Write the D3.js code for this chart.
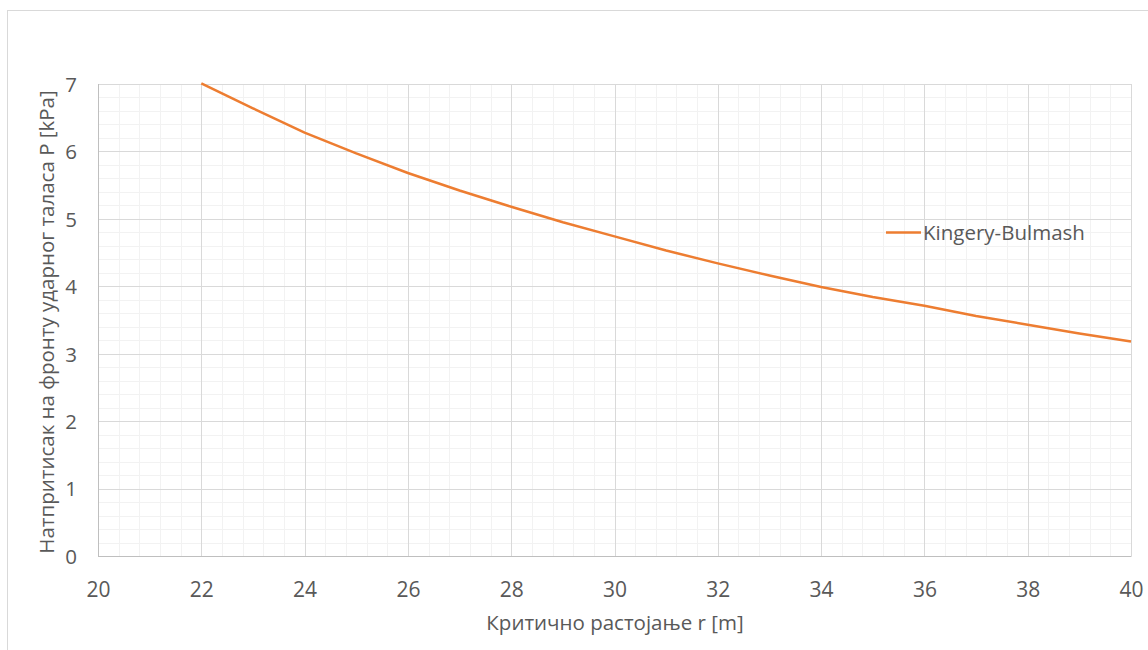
<!DOCTYPE html>
<html>
<head>
<meta charset="utf-8">
<script src="https://cdn.jsdelivr.net/npm/d3@7"></script>
<style>
  html, body { margin: 0; padding: 0; background: #fff; }
  svg { display: block; }
  text { font-family: "Open Sans", "Noto Sans", sans-serif; fill: #595959; }
</style>
</head>
<body>
<svg id="chart" width="1148" height="650"></svg>
<script>
// Critical distance r [m]
const distance = [22, 23, 24, 25, 26, 27, 28, 29, 30, 31, 32, 33, 34, 35, 36, 37, 38, 39, 40];
// Overpressure at the shock front P [kPa], Kingery-Bulmash
const pressure = [7.01, 6.64, 6.28, 5.97, 5.68, 5.42, 5.18, 4.95, 4.74, 4.53, 4.34, 4.16, 3.99, 3.84, 3.71, 3.56, 3.43, 3.30, 3.18];
const xTicks = [20, 22, 24, 26, 28, 30, 32, 34, 36, 38, 40];
const yTicks = [0, 1, 2, 3, 4, 5, 6, 7];
const seriesName = "Kingery-Bulmash";
const xTitle = "Критично растојање  r [m]";
const yTitle = "Натпритисак на фронту ударног таласа P  [kPa]";

const svg = d3.select("#chart");
const plotL = 98, plotR = 1131, plotT = 84, plotB = 556;

const x = d3.scaleLinear().domain([20, 40]).range([plotL, plotR]);
const y = d3.scaleLinear().domain([0, 7]).range([plotB, plotT]);

// chart area frame
svg.append("rect")
  .attr("x", 7.5).attr("y", 10.5)
  .attr("width", 1160).attr("height", 660)
  .attr("fill", "#fff").attr("stroke", "#d9d9d9").attr("stroke-width", 1);

// minor gridlines
const xMinor = d3.range(20, 40.001, 0.4).filter(v => Math.abs(v / 2 - Math.round(v / 2)) > 1e-6);
const yMinor = d3.range(0, 7.001, 0.2).filter(v => Math.abs(v - Math.round(v)) > 1e-6);
const g = svg.append("g");
g.selectAll("line.xm").data(xMinor).join("line")
  .attr("x1", d => Math.round(x(d)) + 0.5).attr("x2", d => Math.round(x(d)) + 0.5)
  .attr("y1", plotT).attr("y2", plotB)
  .attr("stroke", "#f2f2f2");
g.selectAll("line.ym").data(yMinor).join("line")
  .attr("y1", d => Math.round(y(d)) + 0.5).attr("y2", d => Math.round(y(d)) + 0.5)
  .attr("x1", plotL).attr("x2", plotR)
  .attr("stroke", "#f2f2f2");

// major gridlines
g.selectAll("line.xM").data(xTicks).join("line")
  .attr("x1", d => Math.round(x(d)) + 0.5).attr("x2", d => Math.round(x(d)) + 0.5)
  .attr("y1", plotT).attr("y2", plotB)
  .attr("stroke", "#d9d9d9");
g.selectAll("line.yM").data(yTicks).join("line")
  .attr("y1", d => Math.round(y(d)) + 0.5).attr("y2", d => Math.round(y(d)) + 0.5)
  .attr("x1", plotL).attr("x2", plotR)
  .attr("stroke", "#d9d9d9");

// axis lines
svg.append("line").attr("x1", plotL + 0.5).attr("x2", plotL + 0.5).attr("y1", plotT).attr("y2", plotB + 0.5)
  .attr("stroke", "#bfbfbf");
svg.append("line").attr("x1", plotL).attr("x2", plotR + 0.5).attr("y1", plotB + 0.5).attr("y2", plotB + 0.5)
  .attr("stroke", "#bfbfbf");

// x axis tick labels
const xAxis = d3.axisBottom(x).tickValues(xTicks).tickSize(0).tickPadding(0).tickFormat(d3.format("d"));
const gx = svg.append("g").attr("transform", `translate(0,${plotB})`).call(xAxis);
gx.select(".domain").remove();
gx.selectAll("text").attr("y", 40.5).attr("dy", null)
  .style("font-size", "21px").attr("fill", "#595959");

// y axis tick labels
const yAxis = d3.axisLeft(y).tickValues(yTicks).tickSize(0).tickPadding(0).tickFormat(d3.format("d"));
const gy = svg.append("g").attr("transform", `translate(${plotL - 21},0)`).call(yAxis);
gy.select(".domain").remove();
gy.selectAll("text").attr("dy", "0.36em")
  .style("font-size", "20.5px").attr("fill", "#595959");

// data line
const line = d3.line().x((d, i) => x(distance[i])).y(d => y(d));
svg.append("path")
  .datum(pressure)
  .attr("d", line)
  .attr("fill", "none")
  .attr("stroke", "#ed7d31")
  .attr("stroke-width", 2.5)
  .attr("stroke-linejoin", "round");

// axis titles
svg.append("text")
  .attr("x", 615).attr("y", 630)
  .attr("text-anchor", "middle")
  .style("font-size", "20.5px")
  .text(xTitle);
svg.append("text")
  .attr("transform", `translate(54,322) rotate(-90)`)
  .attr("text-anchor", "middle")
  .style("font-size", "20.5px")
  .text(yTitle);

// legend
const legend = svg.append("g").attr("transform", "translate(886,232)");
legend.append("line").attr("x1", 0).attr("x2", 35).attr("y1", 0.5).attr("y2", 0.5)
  .attr("stroke", "#ed7d31").attr("stroke-width", 2.5);
legend.append("text").attr("x", 37).attr("y", 8)
  .style("font-size", "20.5px").text(seriesName);
</script>
</body>
</html>
